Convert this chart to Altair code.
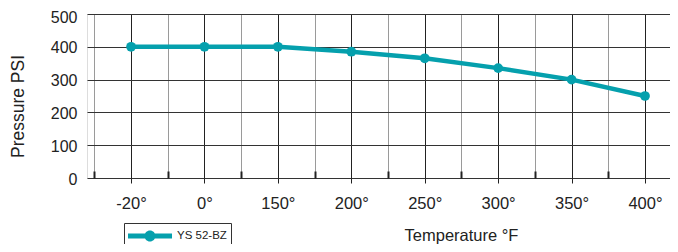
import altair as alt
import pandas as pd

temps = ["-20°", "0°", "150°", "200°", "250°", "300°", "350°", "400°"]
pressure = [400, 400, 400, 385, 365, 335, 300, 250]
series_name = "YS 52-BZ"
y_ticks = [0, 100, 200, 300, 400, 500]

TEAL = "#05a0ad"
DARK = "#222222"
FONT = "Liberation Sans"

df = pd.DataFrame({
    "idx": list(range(len(temps))),
    "temp": temps,
    "psi": pressure,
    "series": [series_name] * len(temps),
})

# grid/tick positions: category centres and band boundaries
grid_vals = [i * 0.5 for i in range(-1, 2 * len(temps) - 1)]
bound_vals = [v for v in grid_vals if v % 1 != 0]
label_list = "[" + ",".join("'" + t + "'" for t in temps) + "]"
label_expr = f"datum.value % 1 === 0 ? {label_list}[datum.value] : ''"

PLOT_W = 583
STEP = 73.42
xscale = alt.Scale(domain=[-0.6, -0.6 + PLOT_W / STEP], nice=False, zero=False)

x_main = alt.X(
    "idx:Q",
    scale=xscale,
    axis=alt.Axis(
        values=grid_vals,
        labelExpr=label_expr,
        grid=True,
        gridColor={"condition": {"test": "datum.value % 1 === 0", "value": DARK}, "value": "#9a9a9a"},
        gridWidth=1,
        domain=False,
        ticks=True,
        tickSize={"condition": {"test": "datum.value % 1 === 0", "value": 5}, "value": 0},
        tickColor=DARK,
        tickWidth=1,
        labelFont=FONT,
        labelFontSize=16.5,
        labelColor=DARK,
        labelBaseline="alphabetic",
        labelPadding=25,
        labelFlush=False,
        labelOverlap=False,
        labelBound=False,
        title="Temperature °F",
        titleFont=FONT,
        titleFontSize=16.5,
        titleFontWeight="normal",
        titleColor=DARK,
        titleX=374,
        titleY=62,
        titleAlign="center",
        titleBaseline="alphabetic",
    ),
)

y_main = alt.Y(
    "psi:Q",
    scale=alt.Scale(domain=[0, 500], nice=False, zero=True),
    axis=alt.Axis(
        values=y_ticks,
        grid=True,
        gridColor="#333333",
        gridWidth=1,
        domain=False,
        ticks=False,
        labelFont=FONT,
        labelFontSize=16,
        labelColor=DARK,
        labelPadding=10,
        labelOffset={"condition": {"test": "datum.value === 500", "value": 3}, "value": 1},
        labelBound=False,
        title="Pressure PSI",
        titleFont=FONT,
        titleFontSize=17.5,
        titleFontWeight="normal",
        titleColor=DARK,
        titleAngle=270,
        titleX=-64,
        titleY=92,
        titleAlign="center",
        titleBaseline="alphabetic",
    ),
)

base = alt.Chart(df).encode(x=x_main, y=y_main)

line = base.mark_line(color=TEAL, strokeWidth=4.5)

# legend symbol: a line with a dot
sym_path = (
    "M-1,-0.27H3.89V0.27H-1Z "
    "M0.83,0A0.61,0.61,0,1,1,2.05,0A0.61,0.61,0,1,1,0.83,0Z"
)

pts = base.mark_point(filled=True, size=95, opacity=1).encode(
    color=alt.Color(
        "series:N",
        scale=alt.Scale(range=[TEAL]),
        legend=alt.Legend(
            title=None,
            orient="none",
            legendX=37,
            legendY=209,
            padding=4,
            strokeColor="#333333",
            fillColor="white",
            cornerRadius=0,
            symbolType=sym_path,
            symbolSize=324,
            symbolStrokeWidth=0,
            labelOffset=31,
            labelFont=FONT,
            labelFontSize=11.5,
            labelColor=DARK,
        ),
    )
)

inner_ticks = alt.Chart(df).mark_point(opacity=0).encode(
    x=alt.X(
        "idx:Q",
        scale=xscale,
        axis=alt.Axis(
            orient="bottom",
            values=bound_vals,
            grid=False,
            domain=False,
            labels=False,
            ticks=True,
            tickSize=7,
            tickWidth=2,
            tickColor=DARK,
            offset=-7,
            title=None,
        ),
    )
)

chart = (
    alt.layer(alt.layer(line, pts), inner_ticks)
    .resolve_axis(x="independent")
    .properties(
        width=PLOT_W,
        height=164,
        autosize=alt.AutoSizeParams(type="none"),
        padding={"left": 79, "top": 6, "right": 0, "bottom": 66},
    )
    .configure_view(stroke=None)
    .configure(font=FONT)
)

chart.save("out.html", embed_options={"renderer": "svg", "actions": False})
